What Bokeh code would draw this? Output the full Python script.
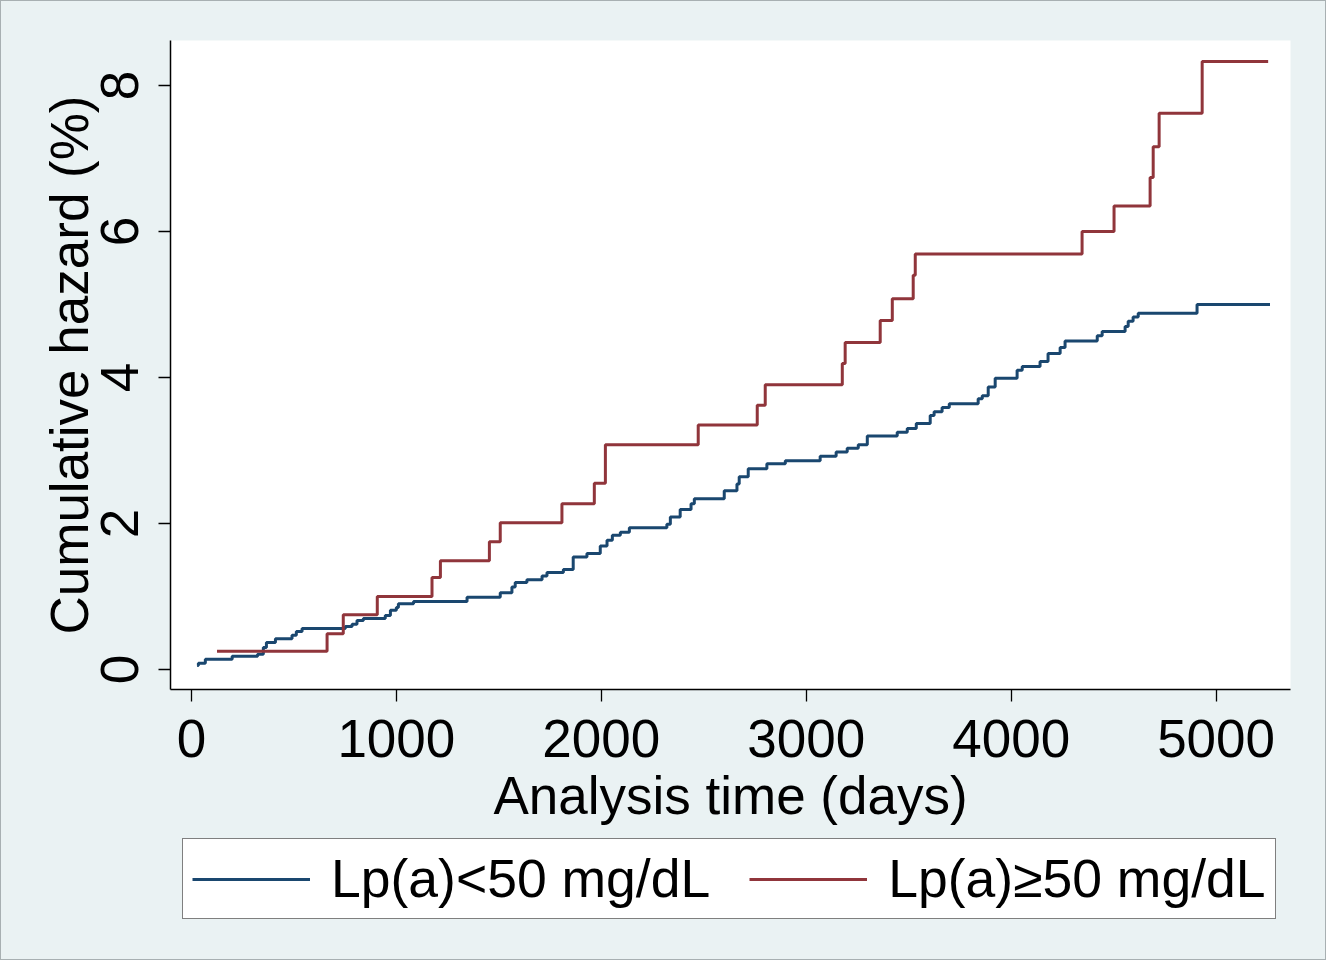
from bokeh.plotting import figure
from bokeh.layouts import column
from bokeh.models import Range1d, FixedTicker, Legend, LegendItem
from bokeh.embed import file_html
from bokeh.resources import INLINE

# ---- data ----
low_days = [28, 34, 68, 199, 323, 351, 366, 410, 491, 512, 540, 751, 784, 808, 839,
            946, 971, 1000, 1010, 1084, 1345, 1507, 1564, 1580, 1637, 1711, 1735, 1815,
            1863, 1930, 1995, 2028, 2054, 2093, 2137, 2320, 2337, 2385, 2438, 2454, 2600,
            2662, 2673, 2717, 2808, 2898, 3068, 3146, 3200, 3254, 3298, 3444, 3493, 3537,
            3605, 3624, 3663, 3698, 3839, 3859, 3888, 3922, 4029, 4054, 4141, 4180, 4239,
            4263, 4420, 4444, 4556, 4571, 4595, 4620, 4907, 5263]
low_hazard = [0.055, 0.086, 0.14, 0.18, 0.21, 0.30, 0.37, 0.42, 0.47, 0.52, 0.56, 0.59, 0.62,
              0.67, 0.70, 0.74, 0.81, 0.85, 0.90, 0.93, 0.99, 1.05, 1.13, 1.19, 1.23, 1.28,
              1.33, 1.37, 1.54, 1.59, 1.69, 1.77, 1.84, 1.88, 1.94, 1.99, 2.09, 2.19, 2.27,
              2.34, 2.45, 2.54, 2.64, 2.75, 2.82, 2.86, 2.92, 2.98, 3.03, 3.08, 3.20, 3.25,
              3.30, 3.37, 3.48, 3.53, 3.59, 3.64, 3.71, 3.75, 3.87, 3.99, 4.10, 4.15, 4.22,
              4.33, 4.41, 4.50, 4.57, 4.63, 4.70, 4.77, 4.83, 4.88, 5.00, 5.00]

high_days = [125, 662, 741, 907, 1174, 1215, 1454, 1507, 1808, 1966, 2020, 2473, 2761, 2800,
             3176, 3190, 3361, 3420, 3522, 3532, 4346, 4502, 4678, 4693, 4722, 4932, 5254]
high_hazard = [0.25, 0.49, 0.75, 1.00, 1.26, 1.49, 1.75, 2.01, 2.27, 2.55, 3.08, 3.35, 3.62,
               3.90, 4.19, 4.48, 4.78, 5.08, 5.40, 5.69, 6.00, 6.35, 6.74, 7.16, 7.62, 8.33, 8.33]

x_ticks = [0, 1000, 2000, 3000, 4000, 5000]
y_ticks = [0, 2, 4, 6, 8]
series_labels = ["Lp(a)<50 mg/dL", "Lp(a)\u226550 mg/dL"]
series_colors = ["#1a476f", "#90353b"]

FONT = "Liberation Sans"
BG = "#EAF2F3"

# ---- main plot ----
p = figure(frame_width=1120, frame_height=649, output_backend="svg", toolbar_location=None,
           x_range=Range1d(-102, 5363), y_range=Range1d(-0.274, 8.616),
           min_border_left=169, min_border_right=34, min_border_top=39, min_border_bottom=145)
p.background_fill_color = "white"
p.border_fill_color = BG
p.outline_line_color = None
p.grid.visible = False

p.step(low_days, low_hazard, mode="after", line_color=series_colors[0], line_width=3)
p.step(high_days, high_hazard, mode="after", line_color=series_colors[1], line_width=3)

for ax in (p.xaxis[0], p.yaxis[0]):
    ax.axis_line_color = "black"
    ax.axis_line_width = 1.5
    ax.major_tick_line_color = "black"
    ax.major_tick_line_width = 1.3
    ax.major_tick_out = 12
    ax.major_tick_in = 0
    ax.minor_tick_line_color = None
    ax.major_label_text_font = FONT
    ax.major_label_text_font_size = "53px"
    ax.major_label_text_color = "black"
    ax.axis_label_text_font = FONT
    ax.axis_label_text_font_size = "53px"
    ax.axis_label_text_font_style = "normal"
    ax.axis_label_text_color = "black"

p.xaxis.ticker = FixedTicker(ticks=x_ticks)
p.yaxis.ticker = FixedTicker(ticks=y_ticks)
p.xaxis.axis_label = "Analysis time (days)"
p.yaxis.axis_label = "Cumulative hazard (%)"
p.yaxis.major_label_orientation = "vertical"
p.xaxis.major_label_standoff = 18
p.xaxis.axis_label_standoff = 6
p.yaxis.major_label_standoff = 20
p.yaxis.axis_label_standoff = 0

# ---- legend strip (same series, legend only; frame is aligned with the main plot) ----
leg = figure(width=1324, height=125, output_backend="svg", toolbar_location=None,
             x_range=Range1d(0, 1), y_range=Range1d(0, 1), min_border=0)
leg.axis.visible = False
leg.grid.visible = False
leg.outline_line_color = None
leg.background_fill_color = BG
leg.border_fill_color = BG
l1 = leg.step(low_days, low_hazard, mode="after", line_color=series_colors[0], line_width=3)
l2 = leg.step(high_days, high_hazard, mode="after", line_color=series_colors[1], line_width=3)
l1.visible = False
l2.visible = False

legend = Legend(items=[LegendItem(label=series_labels[0], renderers=[l1]),
                       LegendItem(label=series_labels[1], renderers=[l2])],
                orientation="horizontal", location=(12, 40))
legend.label_text_font = FONT
legend.label_text_font_size = "53.5px"
legend.label_text_color = "black"
legend.glyph_width = 118
legend.label_standoff = 21
legend.spacing = 39
legend.padding = 9
legend.margin = 0
legend.border_line_color = "black"
legend.border_line_width = 1.5
legend.background_fill_color = "white"
legend.background_fill_alpha = 1
legend.inactive_fill_alpha = 0
leg.add_layout(legend, "center")

layout = column(p, leg, spacing=0,
                styles={"border": "1px solid #a8b0b2", "background-color": BG})

open("out.html", "w").write(file_html(layout, INLINE))
